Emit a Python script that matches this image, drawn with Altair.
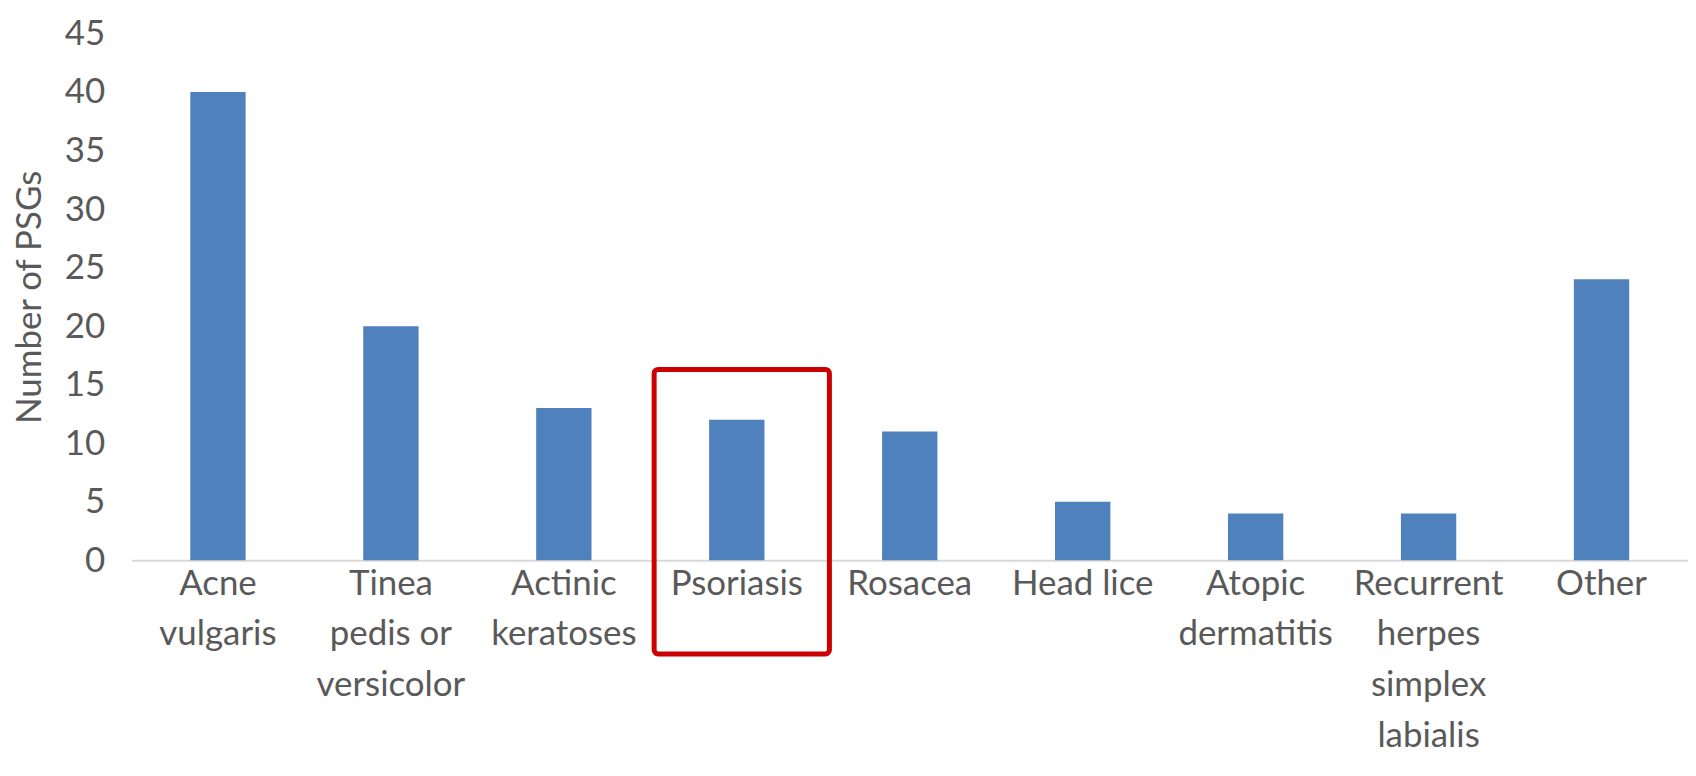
import altair as alt
import pandas as pd

categories = [
    "Acne|vulgaris",
    "Tinea|pedis or|versicolor",
    "Actinic|keratoses",
    "Psoriasis",
    "Rosacea",
    "Head lice",
    "Atopic|dermatitis",
    "Recurrent|herpes|simplex|labialis",
    "Other",
]
values = [40, 20, 13, 12, 11, 5, 4, 4, 24]

highlight_category = ["Psoriasis"]
highlight_top = [16.3]
highlight_bottom = [-8.0]

df = pd.DataFrame({"category": categories, "value": values})
hl = pd.DataFrame({"category": highlight_category, "top": highlight_top, "bottom": highlight_bottom})

FONT = "Lato"
TXT = "#595959"

x_enc = alt.X(
    "category:N",
    sort=categories,
    scale=alt.Scale(paddingInner=0.68, paddingOuter=0.34),
    axis=alt.Axis(
        title=None,
        labelAngle=0,
        labelExpr="split(datum.label, '|')",
        labelFont=FONT,
        labelFontSize=35,
        labelColor=TXT,
        labelLineHeight=51,
        labelPadding=6,
        labelBaseline="top",
        ticks=False,
        domainColor="#D9D9D9",
        domainWidth=2,
        grid=False,
        labelLimit=400,
    ),
)
y_scale = alt.Scale(domain=[0, 45], nice=False)
y_axis = alt.Axis(
    title="Number of PSGs",
    values=[0, 5, 10, 15, 20, 25, 30, 35, 40, 45],
    labelFont=FONT,
    labelFontSize=35,
    labelColor=TXT,
    labelPadding=27,
    titleFont=FONT,
    titleFontSize=35,
    titleFontWeight="normal",
    titleColor=TXT,
    titlePadding=17,
    ticks=False,
    domain=False,
    grid=False,
)

bars = alt.Chart(df).mark_bar(color="#4F81BD").encode(
    x=x_enc,
    y=alt.Y("value:Q", scale=y_scale, axis=y_axis),
)

box = alt.Chart(hl).mark_bar(
    filled=False,
    stroke="#CC0000",
    strokeWidth=5,
    width=176,
    cornerRadius=4,
    clip=False,
    xOffset=5,
).encode(
    x=alt.X("category:N", sort=categories),
    y=alt.Y("top:Q", scale=y_scale),
    y2="bottom:Q",
)

chart = (
    alt.layer(bars, box)
    .properties(
        width=1563,
        height=529,
        autosize=alt.AutoSizeParams(type="none"),
        padding={"left": 124, "top": 24, "right": 0, "bottom": 200},
    )
    .configure(background="white")
    .configure_view(strokeWidth=0, stroke=None)
)

chart.save("out.html", embed_options={"renderer": "svg", "actions": False})
